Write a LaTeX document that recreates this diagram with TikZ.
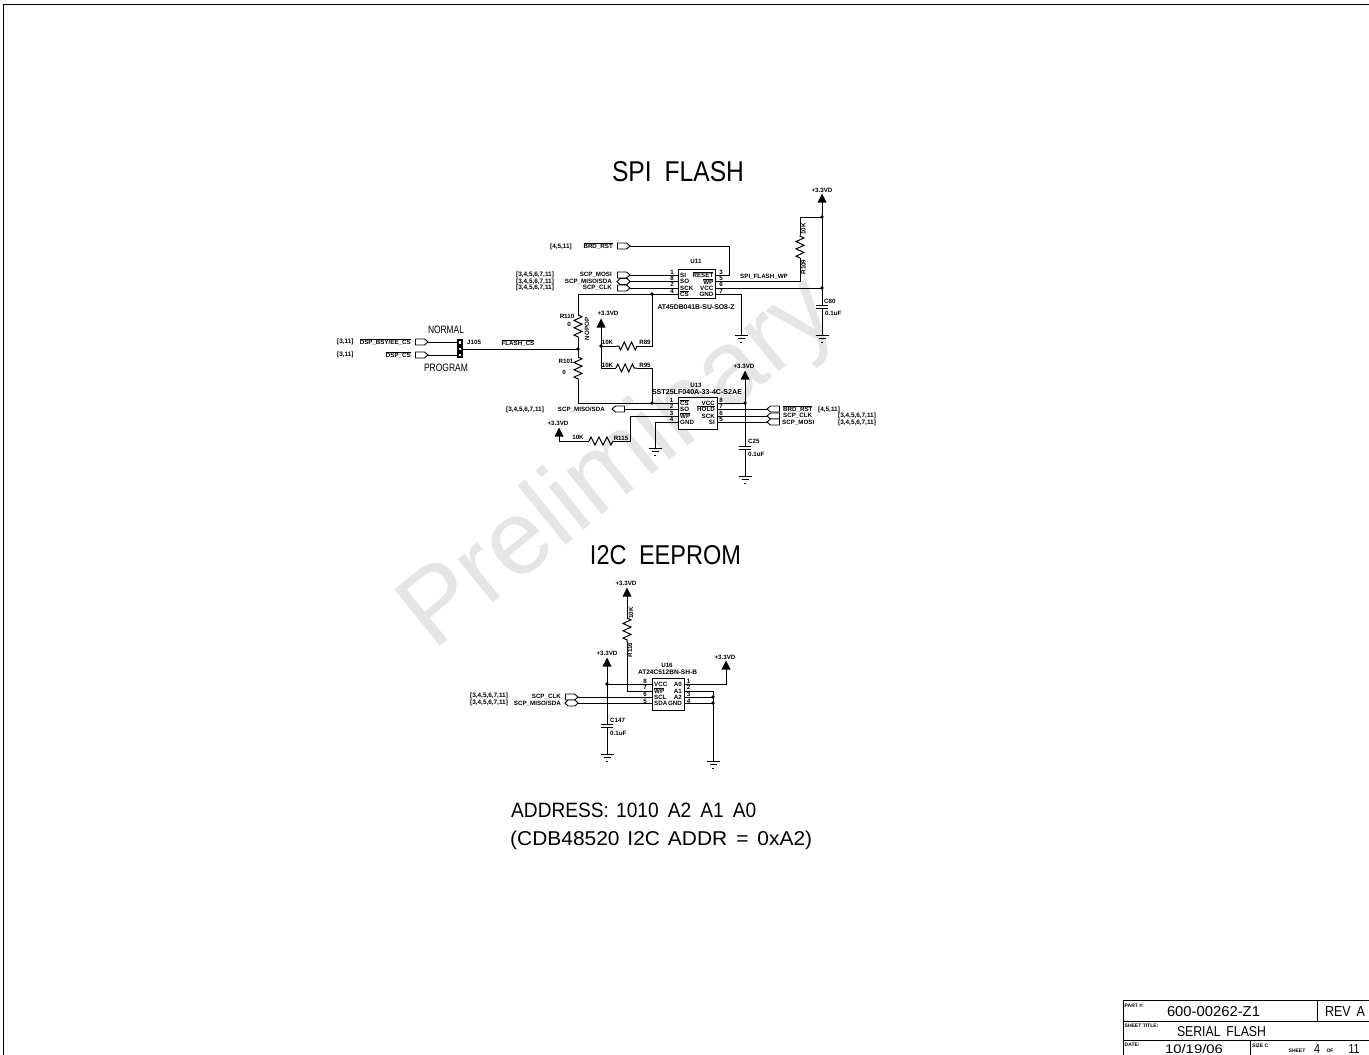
\documentclass[tikz,border=0pt]{standalone}
\usepackage{fontspec}
\setmainfont{Liberation Sans}
\usetikzlibrary{decorations.pathmorphing}
\newcommand\ol[1]{\leavevmode\vbox{\hrule height .5pt \kern .5pt \hbox{#1}}}
\newcommand\fitb[3]{\resizebox{#1pt}{#2pt}{#3}}
\newcommand\fitw[2]{\resizebox{#1pt}{!}{#2}}
\newcommand\Pw[1]{\fill (#1) ++(-4.5,4.5) -- ++(9,0) -- ++(-4.5,-9) -- cycle;}
\newcommand\Gnd[1]{\draw[wire] (#1) ++(-6.5,0) -- ++(13,0) ++(-10,3.5) -- ++(7,0) ++(-4.5,3.5) -- ++(2,0);}
\newcommand\Jn[1]{\fill (#1) circle (1.9);}
\newcommand\ConR[1]{\draw[conn] (#1) -- ++(-3.5,-3) -- ++(-9,0) -- ++(0,6) -- ++(9,0) -- cycle;}
\newcommand\ConL[1]{\draw[conn] (#1) -- ++(3.5,-3) -- ++(9,0) -- ++(0,6) -- ++(-9,0) -- cycle;}
\newcommand\ConB[1]{\draw[conn] (#1) -- ++(-3,-3) -- ++(-7,0) -- ++(-3,3) -- ++(3,3) -- ++(7,0) -- cycle;}
\newcommand\Cap[1]{\draw[wire] (#1) ++(-6,0) -- ++(12,0) ++(-12,3) -- ++(12,0);}
\tikzset{
  wire/.style={line width=1pt,line cap=butt,line join=miter},
  conn/.style={line width=.9pt,fill=white},
  zz/.style={wire,decorate,decoration={zigzag,segment length=7.3pt,amplitude=4pt}},
  lb/.style={inner sep=0pt,font=\fontsize{6.2}{7}\selectfont\bfseries},
  big/.style={inner sep=0pt},
  small/.style={inner sep=0pt,font=\fontsize{5}{6}\selectfont\bfseries},
  refs/.style={inner sep=0pt,font=\fontsize{6.4}{7}\selectfont\bfseries},
  chip/.style={wire,draw,rectangle,inner sep=0pt,fill=white},
}
\begin{document}
\begin{tikzpicture}[x=1pt,y=-1pt]
\useasboundingbox (0,0) rectangle (1369,1055);
\fill[white] (0,0) rectangle (1369,1055);
% sheet border
\coordinate (bl) at (3.5,1055); \coordinate (tl) at (3.5,4.7); \coordinate (tr) at (1369,4.7);
\draw[line width=1.5pt] (bl) -- (tl) -- (tr);
% watermark
\node[anchor=base west,inner sep=0pt,rotate=39,text=black!10,font=\fontsize{105}{105}\selectfont] (wm) at (433,652) {Preliminary};
% titles
\node[big] (t1) at (678,172) {\fitb{132}{20}{SPI\hspace{.25em} FLASH}};
\node[big] (t2) at (665.5,555) {\fitb{151}{19}{I2C\hspace{.25em} EEPROM}};
\node[big,anchor=base west] (t3) at (511,817) {\fitb{245}{14.5}{ADDRESS:\hspace{.1em} 1010\hspace{.2em} A2\hspace{.2em} A1\hspace{.2em} A0}};
\node[big,anchor=base west] (t4) at (510,845) {\fitb{302}{14.5}{(CDB48520\hspace{.1em} I2C\hspace{.1em} ADDR\hspace{.15em} =\hspace{.15em} 0xA2)}};

% ---------- coordinates
\foreach \n/\x/\y in {
 brdtip/630/246,brdc/729/246,u11reset/715/275,
 mositip/630/275,u11si/678/275,misotip/630/281.5,u11so/678/281.5,clktip/630/288,u11sck/678/288,
 u11cs/678/294,csj/652/294,csc/578/294,r110a/578/315,r110b/578/337,fj/578/349,
 r89b/652/346,r89r/637/346,r89l/616/346,vj/601/346,p1/601/323,
 vb/601/368,r95l/616/368,r95r/637/368,r95c/652/368,csj2/652/403,
 r101a/578/357,r101b/578/379,r101c/578/403,u13cs/678/403,
 jout/463/349,
 u11wp/715/281.5,r109low/800/281.5,r109b/800/258,r109a/800/235,r109t/800/217,topj/822/217,
 u11vcc/715/288,vccj/822/288,ptop/822/198,c80/822/305,g80/822/335,
 u11gnd/715/294,gc1/741/294,g1/741/335,
 j1in/457/342,j3in/457/355,dsp1tip/428/342,dsp2tip/428/355,
 m2tip/612/409,u13so/678/409,u13wp/678/416,wc/630/416,wd/630/441,r115r/613/441,r115l/589/441,p3c/559/441,p3/559/432,
 u13gnd/678/422,gc2/655/422,g2/655/448,
 u13vcc/717/403,vj2/745/403,p4/745/375,c25/745/446,g3/745/476,
 u13hold/717/409,u13sck/717/416,u13si/717/422,rb/767/409,rc/767/416,rm/767/422,
 p5/627/592,r116a/627/618,r116b/627/642,wpc/627/691,u16wp/652/691,
 p6/607/662,vj3/607/684,u16vcc/652/684,c147/607/724,g4/607/754,
 u16a0/684/684,a0c/726/684,p7/726/665,u16a1/684/691,a1c/713/691,u16a2/684/697,aj1/713/697,u16gnd/684/703,aj2/713/703,g5/713/761,
 ck3/578/697,u16scl/652/697,md3/578/703,u16sda/652/703}
 {\coordinate (\n) at (\x,\y);}

% ---------- wires
\draw[wire] (brdtip) -- (brdc) -- (u11reset -| brdc) -- (u11reset);
\draw[wire] (mositip) -- (u11si);
\draw[wire] (misotip) -- (u11so);
\draw[wire] (clktip) -- (u11sck);
\draw[wire] (u11cs) -- (csc) -- (r110a);
\draw[zz] (r110a) -- (r110b);
\draw[wire] (r110b) -- (fj);
\draw[wire] (csj) -- (r89b) -- (r89r);
\draw[zz] (r89r) -- (r89l);
\draw[wire] (r89l) -- (vj);
\draw[wire] (p1) -- (vb) -- (r95l);
\draw[zz] (r95l) -- (r95r);
\draw[wire] (r95r) -- (r95c) -- (csj2);
\draw[wire] (fj) -- (r101a);
\draw[zz] (r101a) -- (r101b);
\draw[wire] (r101b) -- (r101c) -- (u13cs);
\draw[wire] (jout) -- (fj);
\draw[wire] (u11wp) -- (r109low) -- (r109b);
\draw[zz] (r109b) -- (r109a);
\draw[wire] (r109a) -- (r109t) -- (topj);
\draw[wire] (ptop) -- (c80);
\draw[wire] (c80) ++(0,3) -- (g80);
\draw[wire] (u11vcc) -- (vccj);
\draw[wire] (u11gnd) -- (gc1) -- (g1);
\draw[wire] (dsp1tip) -- (j1in);
\draw[wire] (dsp2tip) -- (j3in);
\draw[wire] (m2tip) -- (u13so);
\draw[wire] (u13wp) -- (wc) -- (wd) -- (r115r);
\draw[wire,decorate,decoration={zigzag,segment length=8pt,amplitude=4pt}] (r115r) -- (r115l);
\draw[wire] (r115l) -- (p3c) -- (p3);
\draw[wire] (u13gnd) -- (gc2) -- (g2);
\draw[wire] (u13vcc) -- (vj2);
\draw[wire] (p4) -- (c25);
\draw[wire] (c25) ++(0,3) -- (g3);
\draw[wire] (u13hold) -- (rb);
\draw[wire] (u13sck) -- (rc);
\draw[wire] (u13si) -- (rm);
\draw[wire] (p5) -- (r116a);
\draw[zz] (r116a) -- (r116b);
\draw[wire] (r116b) -- (wpc) -- (u16wp);
\draw[wire] (p6) -- (c147);
\draw[wire] (c147) ++(0,3) -- (g4);
\draw[wire] (vj3) -- (u16vcc);
\draw[wire] (u16a0) -- (a0c) -- (p7);
\draw[wire] (u16a1) -- (a1c) -- (g5);
\draw[wire] (u16a2) -- (aj1);
\draw[wire] (u16gnd) -- (aj2);
\draw[wire] (ck3) -- (u16scl);
\draw[wire] (md3) -- (u16sda);

% ---------- symbols
\foreach \c in {ptop,p1,p3,p4,p5,p6,p7} {\Pw{\c}}
\foreach \c in {g80,g1,g2,g3,g4,g5} {\Gnd{\c}}
\foreach \c in {csj,fj,vj,csj2,topj,vccj,vj2,vj3,aj1,aj2} {\Jn{\c}}
\foreach \c in {c80,c25,c147} {\Cap{\c}}
\foreach \c in {brdtip,mositip,clktip,dsp1tip,dsp2tip,ck3} {\ConR{\c}}
\foreach \c in {m2tip,rb,rc,rm} {\ConL{\c}}
\foreach \c in {misotip,md3} {\ConB{\c}}

% ---------- chips
\node[chip,minimum width=37pt,minimum height=29pt] (u11) at (696.5,283.5) {};
\node[chip,minimum width=39pt,minimum height=32pt] (u13) at (697.5,413) {};
\node[chip,minimum width=32pt,minimum height=32pt] (u16) at (668,694) {};
% jumper
\node[inner sep=0pt,fill=black,minimum width=6.5pt,minimum height=19pt] (j105) at (460,348.5) {};
\foreach \n/\y in {a/342.5,b/349,c/355} {\node[inner sep=0pt,fill=white,minimum width=2.6pt,minimum height=2.4pt] (j\n) at (460,\y) {};}

% ---------- U11 labels
\node[lb] (u11n) at (696,261) {U11};
\node[lb] (u11p) at (696,307) {\fitw{77}{AT45DB041B-SU-SO8-Z}};
\foreach \n/\t/\y in {a/SI/275,b/SO/281.5,c/SCK/288,d/\ol{CS}/294} {\node[lb,anchor=west] (u11l\n) at (680,\y) {\t};}
\foreach \n/\t/\y in {a/\ol{RESET}/275,b/\ol{WP}/281.5,c/VCC/288,d/GND/294} {\node[lb,anchor=east] (u11r\n) at (713.5,\y) {\t};}
\foreach \n/\y in {1/272,8/278,2/284.5,4/291} {\node[lb] (u11x\n) at (672,\y) {\n};}
\foreach \n/\y in {3/272,5/278,6/284.5,7/291} {\node[lb] (u11x\n) at (721,\y) {\n};}
% U13 labels
\node[lb] (u13n) at (696,385) {U13};
\node[lb] (u13p) at (697,392) {\fitw{90}{SST25LF040A-33-4C-S2AE}};
\foreach \n/\t/\y in {a/\ol{CS}/403,b/SO/409,c/\ol{WP}/416,d/GND/422.5} {\node[lb,anchor=west] (u13l\n) at (680,\y) {\t};}
\foreach \n/\t/\y in {a/VCC/403,b/\ol{HOLD}/409,c/SCK/416,d/SI/422.5} {\node[lb,anchor=east] (u13r\n) at (715,\y) {\t};}
\foreach \n/\y in {1/400,2/406,3/413,4/419} {\node[lb] (u13x\n) at (671.5,\y) {\n};}
\foreach \n/\y in {8/400,7/406,6/413,5/419} {\node[lb] (u13x\n) at (721,\y) {\n};}
% U16 labels
\node[lb] (u16n) at (667,665) {U16};
\node[lb] (u16p) at (667.5,672) {\fitw{59}{AT24C512BN-SH-B}};
\foreach \n/\t/\y in {a/VCC/684,b/\ol{WP}/691,c/SCL/697,d/SDA/703.5} {\node[lb,anchor=west] (u16l\n) at (654,\y) {\t};}
\foreach \n/\t/\y in {a/A0/684,b/A1/691,c/A2/697,d/GND/703.5} {\node[lb,anchor=east] (u16r\n) at (682,\y) {\t};}
\foreach \n/\y in {8/681,7/687,6/694,5/701} {\node[lb] (u16x\n) at (645,\y) {\n};}
\foreach \n/\y in {1/681,2/687,3/694,4/701} {\node[lb] (u16x\n) at (688.5,\y) {\n};}

% ---------- signal names
\node[lb,anchor=east] (s1) at (613,246.5) {\ol{BRD\_RST}};
\node[refs] (s1r) at (561,246.5) {[4,5,11]};
\node[lb,anchor=east] (s2) at (612,275) {SCP\_MOSI};
\node[lb,anchor=east] (s3) at (612,281.5) {SCP\_MISO/SDA};
\node[lb,anchor=east] (s4) at (612,288) {SCP\_CLK};
\foreach \n/\y in {a/275,b/281.5,c/288} {\node[refs,anchor=west] (s5\n) at (516,\y) {[3,4,5,6,7,11]};}
\node[lb] (s6) at (764,277) {SPI\_FLASH\_WP};
\node[lb] (s7) at (518,343) {\ol{FLASH\_CS}};
\node[lb,anchor=east] (s8) at (411,342.5) {\ol{DSP\_BSY/EE\_CS}};
\node[lb,anchor=east] (s9) at (411,355) {\ol{DSP\_CS}};
\node[refs,anchor=west] (s10) at (337,342) {[3,11]};
\node[refs,anchor=west] (s11) at (337,355) {[3,11]};
\node[lb,anchor=west] (s12) at (467,342) {J105};
\node[big] (s13) at (446,329.5) {\fitb{36}{7.5}{NORMAL}};
\node[big] (s14) at (446,368) {\fitb{44}{7.5}{PROGRAM}};
\node[lb,anchor=east] (s15) at (605,410) {SCP\_MISO/SDA};
\node[refs,anchor=west] (s16) at (506,410) {[3,4,5,6,7,11]};
\node[lb,anchor=west] (s17) at (783,409) {\ol{BRD\_RST}};
\node[lb,anchor=west] (s18) at (783,416) {SCP\_CLK};
\node[lb,anchor=west] (s19) at (782,422.5) {SCP\_MOSI};
\node[refs,anchor=west] (s20) at (818,409.5) {[4,5,11]};
\node[refs,anchor=west] (s21) at (838,416) {[3,4,5,6,7,11]};
\node[refs,anchor=west] (s22) at (838,422.5) {[3,4,5,6,7,11]};
\node[lb,anchor=east] (s23) at (561,697) {SCP\_CLK};
\node[lb,anchor=east] (s24) at (561,703.5) {SCP\_MISO/SDA};
\node[refs,anchor=west] (s25) at (470,695.5) {[3,4,5,6,7,11]};
\node[refs,anchor=west] (s26) at (470,703) {[3,4,5,6,7,11]};

% ---------- power labels
\node[lb] (pa) at (822,190) {+3.3VD};
\node[lb] (pb) at (608,313) {+3.3VD};
\node[lb] (pc) at (558,423) {+3.3VD};
\node[lb] (pd) at (744,366) {+3.3VD};
\node[lb] (pe) at (626,583) {+3.3VD};
\node[lb] (pf) at (607,653) {+3.3VD};
\node[lb] (pg) at (725,657) {+3.3VD};

% ---------- component labels
\node[lb,rotate=90] (r1) at (803.5,229) {10K};
\node[lb,rotate=90] (r2) at (803.5,267) {R109};
\node[lb,anchor=west] (r3) at (824,301) {C80};
\node[lb,anchor=west] (r4) at (825,313) {0.1uF};
\node[lb] (r5) at (567,316) {R110};
\node[lb] (r6) at (569,324) {0};
\node[lb,rotate=90] (r7) at (587,329) {NOPOP};
\node[lb] (r8) at (566,361) {R101};
\node[lb] (r9) at (564,372) {0};
\node[lb] (r10) at (607.5,342.5) {10K};
\node[lb] (r11) at (645,342.5) {R89};
\node[lb] (r12) at (607.5,365) {10K};
\node[lb] (r13) at (645,365) {R95};
\node[lb] (r14) at (578,437.5) {10K};
\node[lb] (r15) at (621,438) {R115};
\node[lb,anchor=west] (r16) at (748,441.5) {C25};
\node[lb,anchor=west] (r17) at (748,454) {0.1uF};
\node[lb,rotate=90] (r18) at (631,613) {10K};
\node[lb,rotate=90] (r19) at (630,650) {R116};
\node[lb,anchor=west] (r20) at (610,720) {C147};
\node[lb,anchor=west] (r21) at (610,733) {0.1uF};

% ---------- title block
\coordinate (b1) at (1123,1000.7); \coordinate (b2) at (1369,1000.7);
\coordinate (b3) at (1123,1021); \coordinate (b4) at (1369,1021);
\coordinate (b5) at (1123,1040); \coordinate (b6) at (1369,1040);
\coordinate (b7) at (1123,1055); \coordinate (b8) at (1317,1000.7); \coordinate (b9) at (1317,1021);
\coordinate (b10) at (1250,1040); \coordinate (b11) at (1250,1055);
\draw[wire] (b7) -- (b1) -- (b2) (b3) -- (b4) (b5) -- (b6) (b8) -- (b9) (b10) -- (b11);
\node[small,anchor=west] (k1) at (1124.5,1006) {PART \#:};
\node[small,anchor=west] (k2) at (1124.5,1026) {SHEET TITLE:};
\node[small,anchor=west] (k3) at (1124.5,1045) {DATE:};
\node[small,anchor=west] (k4) at (1252,1046) {SIZE C};
\node[small] (k5) at (1297,1051) {SHEET};
\node[big] (v1) at (1213.5,1012) {\fitb{93}{10}{600-00262-Z1}};
\node[big] (v2) at (1345,1011.5) {\fitb{40}{10}{REV\hspace{.2em} A}};
\node[big] (v3) at (1221.5,1031.5) {\fitb{89}{10}{SERIAL\hspace{.2em} FLASH}};
\node[big] (v4) at (1194,1049) {\fitb{58}{9}{10/19/06}};
\node[big] (v5) at (1317,1049) {\fitb{6}{9}{4}};
\node[small] (v6) at (1330,1050.5) {OF};
\node[big] (v7) at (1354,1049) {\fitb{11}{9}{11}};
\end{tikzpicture}
\end{document}
